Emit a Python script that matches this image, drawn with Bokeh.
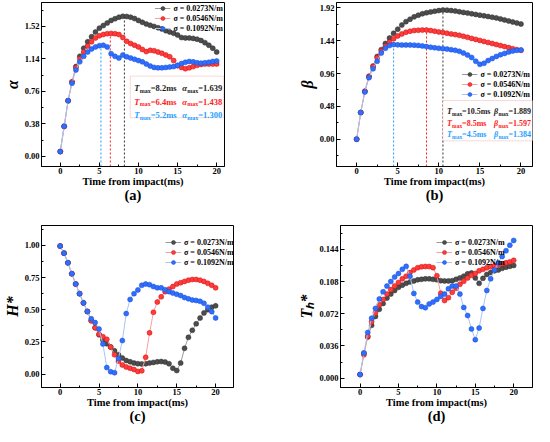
from bokeh.plotting import figure
from bokeh.layouts import row, column
from bokeh.models import (FixedTicker, PrintfTickFormatter, Legend, LegendItem,
                          Label, BoxAnnotation, LinearAxis, Range1d)
from bokeh.embed import file_html
from bokeh.resources import INLINE

# ---------------- data ----------------
time_ms = [0.0, 0.5, 1.0, 1.5, 2.0, 2.5, 3.0, 3.5, 4.0, 4.5, 5.0, 5.5, 6.0, 6.5, 7.0, 7.5,
           8.0, 8.5, 9.0, 9.5, 10.0, 10.5, 11.0, 11.5, 12.0, 12.5, 13.0, 13.5, 14.0, 14.5,
           15.0, 15.5, 16.0, 16.5, 17.0, 17.5, 18.0, 18.5, 19.0, 19.5, 20.0]

series_labels = ["σ = 0.0273N/m", "σ = 0.0546N/m", "σ = 0.1092N/m"]

alpha_s1 = [0.055, 0.35, 0.65, 0.87, 1.05, 1.17, 1.265, 1.34, 1.40, 1.455, 1.50, 1.53, 1.56, 1.59,
            1.61, 1.628, 1.638, 1.636, 1.628, 1.612, 1.59, 1.568, 1.548, 1.533, 1.52, 1.505, 1.49,
            1.47, 1.455, 1.44, 1.42, 1.39, 1.385, 1.385, 1.38, 1.37, 1.355, 1.33, 1.30, 1.265, 1.22]
alpha_s2 = [0.055, 0.35, 0.65, 0.87, 1.035, 1.14, 1.22, 1.29, 1.34, 1.385, 1.41, 1.425, 1.435, 1.438,
            1.435, 1.425, 1.39, 1.345, 1.32, 1.30, 1.28, 1.25, 1.225, 1.24, 1.235, 1.22, 1.205, 1.185,
            1.165, 1.12, 1.06, 1.04, 1.025, 1.035, 1.05, 1.065, 1.075, 1.08, 1.08, 1.08, 1.08]
alpha_s3 = [0.055, 0.35, 0.65, 0.855, 1.01, 1.105, 1.17, 1.22, 1.255, 1.28, 1.295, 1.30, 1.28, 1.20,
            1.17, 1.15, 1.185, 1.165, 1.15, 1.135, 1.12, 1.105, 1.08, 1.056, 1.04, 1.035, 1.035, 1.04,
            1.045, 1.05, 1.065, 1.085, 1.10, 1.11, 1.105, 1.095, 1.09, 1.095, 1.10, 1.11, 1.115]
alpha_tmax = [8.2, 6.4, 5.2]
alpha_max = [1.639, 1.438, 1.300]

beta_s1 = [0.0, 0.39, 0.70, 0.92, 1.07, 1.21, 1.31, 1.40, 1.48, 1.55, 1.61, 1.67, 1.72, 1.755, 1.79,
           1.815, 1.835, 1.85, 1.862, 1.872, 1.882, 1.889, 1.888, 1.882, 1.875, 1.865, 1.855, 1.845,
           1.835, 1.825, 1.815, 1.805, 1.795, 1.785, 1.775, 1.76, 1.745, 1.73, 1.715, 1.70, 1.685]
beta_s2 = [0.0, 0.39, 0.70, 0.915, 1.06, 1.19, 1.29, 1.36, 1.42, 1.47, 1.51, 1.54, 1.565, 1.58, 1.59,
           1.595, 1.596, 1.597, 1.59, 1.58, 1.57, 1.56, 1.55, 1.54, 1.53, 1.52, 1.505, 1.49, 1.475,
           1.46, 1.445, 1.43, 1.415, 1.40, 1.385, 1.37, 1.355, 1.34, 1.325, 1.31, 1.30]
beta_s3 = [0.0, 0.39, 0.69, 0.90, 1.03, 1.14, 1.26, 1.33, 1.37, 1.384, 1.38, 1.378, 1.378, 1.378,
           1.376, 1.372, 1.365, 1.355, 1.345, 1.338, 1.33, 1.325, 1.318, 1.31, 1.30, 1.285, 1.26,
           1.23, 1.195, 1.14, 1.095, 1.11, 1.15, 1.18, 1.21, 1.235, 1.255, 1.275, 1.29, 1.30, 1.305]
beta_tmax = [10.5, 8.5, 4.5]
beta_max = [1.889, 1.597, 1.384]

hstar_s1 = [0.995, 0.94, 0.865, 0.78, 0.70, 0.625, 0.553, 0.486, 0.415, 0.36, 0.305, 0.265, 0.235,
            0.21, 0.18, 0.15, 0.125, 0.105, 0.095, 0.085, 0.08, 0.078, 0.08, 0.085, 0.09, 0.095,
            0.097, 0.093, 0.08, 0.045, 0.027, 0.085, 0.20, 0.285, 0.34, 0.39, 0.435, 0.475, 0.50,
            0.52, 0.53]
hstar_s2 = [0.995, 0.94, 0.865, 0.78, 0.70, 0.625, 0.553, 0.486, 0.415, 0.36, 0.31, 0.29, 0.27, 0.21,
            0.15, 0.10, 0.07, 0.055, 0.045, 0.035, 0.02, 0.025, 0.13, 0.32, 0.48, 0.56, 0.60, 0.64,
            0.66, 0.68, 0.70, 0.71, 0.72, 0.73, 0.735, 0.735, 0.73, 0.72, 0.705, 0.69, 0.67]
hstar_s3 = [0.995, 0.94, 0.865, 0.78, 0.70, 0.625, 0.553, 0.486, 0.43, 0.40, 0.35, 0.233, 0.05, 0.018,
            0.01, 0.12, 0.26, 0.47, 0.58, 0.625, 0.654, 0.69, 0.70, 0.695, 0.68, 0.67, 0.67, 0.655,
            0.64, 0.63, 0.62, 0.61, 0.595, 0.585, 0.575, 0.572, 0.565, 0.55, 0.52, 0.485, 0.436]

th_s1 = [0.004, 0.028, 0.046, 0.059, 0.069, 0.077, 0.0835, 0.0896, 0.094, 0.098, 0.1015, 0.104,
         0.106, 0.1076, 0.1087, 0.110, 0.1105, 0.111, 0.111, 0.1105, 0.110, 0.109, 0.1087, 0.1087,
         0.109, 0.1105, 0.112, 0.114, 0.1166, 0.1177, 0.112, 0.106, 0.1116, 0.116, 0.118, 0.120,
         0.121, 0.1228, 0.124, 0.125, 0.126]
th_s2 = [0.004, 0.026, 0.047, 0.063, 0.073, 0.082, 0.088, 0.094, 0.099, 0.103, 0.107, 0.111, 0.114,
         0.118, 0.121, 0.1235, 0.1245, 0.1248, 0.1248, 0.1235, 0.1145, 0.095, 0.0868, 0.090, 0.096,
         0.1004, 0.105, 0.1084, 0.112, 0.115, 0.117, 0.12, 0.1217, 0.1235, 0.1245, 0.1256, 0.127,
         0.128, 0.129, 0.130, 0.1317]
th_s3 = [0.004, 0.028, 0.051, 0.067, 0.078, 0.0886, 0.0965, 0.103, 0.108, 0.113, 0.117, 0.1217,
         0.125, 0.114, 0.0947, 0.085, 0.080, 0.0788, 0.083, 0.085, 0.088, 0.0914, 0.094, 0.100,
         0.103, 0.103, 0.094, 0.079, 0.070, 0.055, 0.043, 0.056, 0.078, 0.098, 0.111, 0.121,
         0.129, 0.136, 0.1425, 0.1487, 0.154]

x_ticks = [0, 5, 10, 15, 20]
alpha_ticks = [0.00, 0.38, 0.76, 1.14, 1.52]
beta_ticks = [0.00, 0.48, 0.96, 1.44, 1.92]
hstar_ticks = [0.00, 0.25, 0.50, 0.75, 1.00]
th_ticks = [0.000, 0.036, 0.072, 0.108, 0.144]

# ---------------- style ----------------
FONT = "Liberation Serif"
marker_fill = ["#4d4d4d", "#ff3b3b", "#2f6fff"]
marker_line = ["#2e2e2e", "#cc1111", "#1a4fd0"]
line_cols = ["#9a9a9a", "#f5a0a0", "#a8c4f5"]
dash_cols = ["#333333", "#ff2020", "#1ea0ff"]
text_cols = ["#1a1a1a", "#ff1a1a", "#1ea0ff"]

CW = {'0': .5, '1': .5, '2': .5, '3': .5, '4': .5, '5': .5, '6': .5, '7': .5, '8': .5, '9': .5,
      '.': .25, '=': .57, 'm': .833, 's': .389, 'a': .5, 'x': .5, 'T': .64, 'α': .58, 'β': .56}


def text_w(s, size):
    return sum(CW.get(c, .55) for c in s) * size


def minor_of(t):
    step = t[1] - t[0]
    return [t[0] - step / 2] + [(a + b) / 2 for a, b in zip(t[:-1], t[1:])] + [t[-1] + step / 2]


def make_panel(width, height, xr, yr, yticks, fmt, ylabel, tag, borders):
    bl, br, bt, bb = borders
    p = figure(width=width, height=height, x_range=Range1d(*xr), y_range=Range1d(*yr),
               output_backend="svg", toolbar_location=None,
               min_border_left=bl, min_border_right=br, min_border_top=bt, min_border_bottom=bb)
    p.grid.visible = False
    p.outline_line_color = "black"
    p.outline_line_width = 1
    p.background_fill_color = "white"
    p.border_fill_color = "white"
    p.xaxis.ticker = FixedTicker(ticks=x_ticks, minor_ticks=minor_of(x_ticks))
    p.yaxis.ticker = FixedTicker(ticks=yticks, minor_ticks=minor_of(yticks))
    p.yaxis.formatter = PrintfTickFormatter(format=fmt)
    for ax in (p.xaxis[0], p.yaxis[0]):
        ax.axis_line_color = "black"
        ax.major_tick_line_color = "black"
        ax.minor_tick_line_color = "black"
        ax.major_tick_in = 4
        ax.major_tick_out = 0
        ax.minor_tick_in = 2
        ax.minor_tick_out = 0
        ax.major_label_standoff = 2
        ax.major_label_text_font = FONT
        ax.major_label_text_font_style = "bold"
        ax.major_label_text_font_size = "8.5px"
        ax.major_label_text_color = "black"
        ax.axis_label_text_font = FONT
        ax.axis_label_text_color = "black"
    p.xaxis.axis_label = "Time from impact(ms)"
    p.xaxis.axis_label_text_font_style = "bold"
    p.xaxis.axis_label_text_font_size = "10.5px"
    p.xaxis.axis_label_standoff = -1
    p.xaxis.major_label_standoff = 1
    p.yaxis.axis_label = ylabel
    p.yaxis.axis_label_text_font_style = "bold italic"
    p.yaxis.axis_label_text_font_size = "16px"
    p.yaxis.axis_label_standoff = 1
    # panel tag "(a)" etc. as the label of a bare second axis below
    tag_axis = LinearAxis(ticker=FixedTicker(ticks=[]), axis_label=tag,
                          axis_label_text_font=FONT, axis_label_text_font_style="bold",
                          axis_label_text_font_size="14.5px", axis_label_text_color="black",
                          axis_label_standoff=-3, axis_line_color=None,
                          major_tick_line_color=None, minor_tick_line_color=None,
                          major_tick_in=0, major_tick_out=0, minor_tick_in=0, minor_tick_out=0,
                          major_label_standoff=0, major_label_text_font_size="1px")
    p.add_layout(tag_axis, "below")
    return p


def add_series(p, ys_list, legend_loc, margin):
    items = []
    for i, ys in enumerate(ys_list):
        ln = p.line(time_ms, ys, line_color=line_cols[i], line_width=1)
        sc = p.scatter(time_ms, ys, size=5, marker="circle", fill_color=marker_fill[i],
                       line_color=marker_line[i], line_width=0.5)
        items.append(LegendItem(label=series_labels[i], renderers=[ln, sc]))
    lg = Legend(items=items, location=legend_loc, border_line_alpha=0, background_fill_alpha=0,
                padding=0, margin=margin, spacing=0, glyph_width=16, glyph_height=10,
                label_height=10, label_standoff=3, label_text_font=FONT,
                label_text_font_style="bold", label_text_font_size="8px",
                label_text_color="black")
    p.add_layout(lg)


def add_peaks(p, tmax, vmax, ybottom):
    p.segment(x0=tmax, y0=[ybottom] * len(tmax), x1=tmax, y1=vmax, line_color=dash_cols,
              line_width=1, line_dash="2 2")


def rich(p, x, y, x0, dy, parts, color):
    off = x0
    for txt, size, style, sub in parts:
        p.add_layout(Label(x=x, y=y, x_offset=off, y_offset=dy - sub, text=txt, text_font=FONT,
                           text_font_size=f"{size}px", text_font_style=style, text_color=color,
                           text_baseline="alphabetic", text_align="left"))
        off += text_w(txt, size)


def peak_box(p, box, col2, line_dy, tvals, sym, mvals, main, sub):
    left, right, top, bottom = box
    p.add_layout(BoxAnnotation(left=left, right=right, top=top, bottom=bottom,
                               fill_color="white", fill_alpha=1, line_color="#f08080",
                               line_width=1))
    for i in range(3):
        rich(p, left, top, 4, -line_dy[i],
             [("T", main, "bold italic", 0), ("max", sub, "bold", 2.5),
              ("=%.1fms" % tvals[i], main, "bold", 0)], text_cols[i])
        rich(p, left, top, 4 + col2, -line_dy[i],
             [(sym, main, "bold italic", 0), ("max", sub, "bold", 2.5),
              ("=%.3f" % mvals[i], main, "bold", 0)], text_cols[i])


# ---------------- panels ----------------
ra = (-0.12, 1.80)
pa = make_panel(295, 212, (-2.4, 21.0), ra, alpha_ticks, "%.2f", "α", "(a)", (36, 71, 2, 46))
add_peaks(pa, alpha_tmax, alpha_max, ra[0])
add_series(pa, [alpha_s1, alpha_s2, alpha_s3], "top_right", 1)
peak_box(pa, (8.95, 20.9, 0.938, 0.451), 48, [12, 25.5, 39], alpha_tmax, "α", alpha_max, 8.5, 6)

rb = (-0.40, 2.0)
pb = make_panel(239, 212, (-2.45, 21.4), rb, beta_ticks, "%.2f", "β", "(b)", (38, 2, 2, 46))
add_peaks(pb, beta_tmax, beta_max, rb[0])
add_series(pb, [beta_s1, beta_s2, beta_s3], "right", 2)
peak_box(pb, (10.5, 22.0, 0.566, -0.024), 47, [11, 23, 34.5], beta_tmax, "β", beta_max, 8, 5.5)

pc = make_panel(295, 214, (-2.4, 22.3), (-0.105, 1.155), hstar_ticks, "%.2f", "H*", "(c)",
                (36, 62, 13, 0))
add_series(pc, [hstar_s1, hstar_s2, hstar_s3], (124, 120), 0)

pd = make_panel(239, 214, (-2.55, 22.45), (-0.0105, 0.1707), th_ticks, "%.3f", "T\u2095*", "(d)",
                (38, 2, 13, 0))
add_series(pd, [th_s1, th_s2, th_s3], (96, 120), 0)

layout = column(row(pa, pb), row(pc, pd))
open("out.html", "w").write(file_html(layout, INLINE))
